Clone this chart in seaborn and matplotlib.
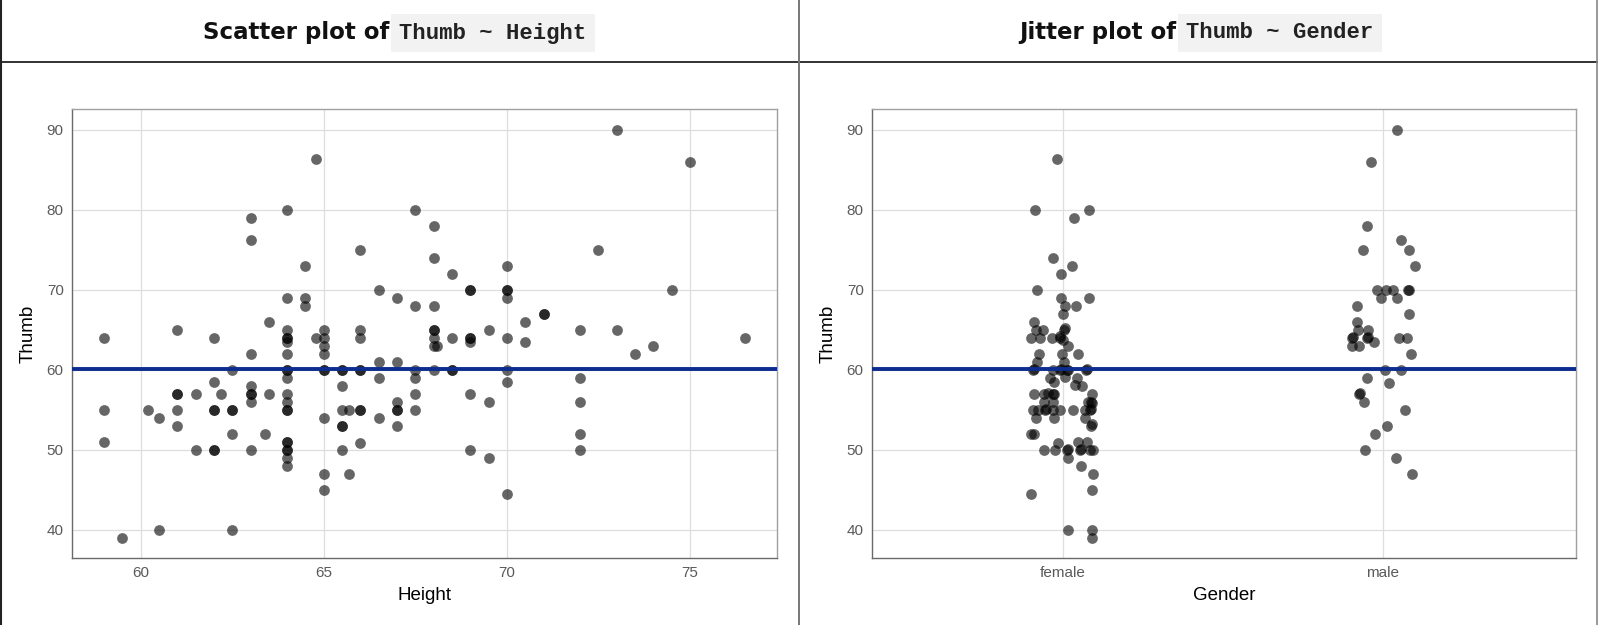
import numpy as np
import pandas as pd
import matplotlib
matplotlib.use("Agg")
import matplotlib.pyplot as plt
from matplotlib.lines import Line2D
import seaborn as sns

# -- data (Height, Thumb) --
height = [
    59, 59, 59, 59.5, 60.2, 60.5, 60.5, 61, 61, 61, 61, 61, 61.5, 61.5,
    62, 62, 62.2, 62, 62, 62, 62, 62.5, 62.5, 62.5, 62.5, 62.5,
    63, 63, 63, 63, 63, 63, 63, 63, 63.5, 63.5, 63.4,
    64, 64, 64, 64, 64, 64, 64, 64, 64, 64, 64, 64, 64, 64, 64, 64, 64, 64, 64, 64,
    64.5, 64.5, 64.5, 64.8, 64.8,
    65, 65, 65, 65, 65, 65, 65, 65, 65,
    65.5, 65.5, 65.5, 65.5, 65.7, 65.5, 65.5, 65.5, 65.7,
    66, 66, 66, 66, 66, 66, 66, 66,
    66.5, 66.5, 66.5, 66.5,
    67, 67, 67, 67, 67, 67,
    67.5, 67.5, 67.5, 67.5, 67.5, 67.5,
    68, 68, 68, 68, 68, 68, 68, 68.1, 68,
    68.5, 68.5, 68.5, 68.5,
    69, 69, 69, 69, 69, 69, 69, 69.5, 69.5, 69.5,
    70, 70, 70, 70, 70, 70, 70, 70, 70.5, 70.5, 71, 71,
    72, 72, 72, 72, 72, 72.5, 73, 73, 73.5, 74, 74.5, 75, 76.5,
]
thumb = [
    64, 55, 51, 39, 55, 54, 40, 65, 57, 57, 55, 53, 57, 50,
    64, 58.4, 57, 55, 55, 50, 50, 60, 55, 55, 52, 40,
    79, 76.2, 62, 58, 57, 57, 56, 50, 66, 57, 52,
    80, 69, 65, 64, 64, 63.4, 62, 60, 60, 59, 57, 56, 55, 55, 51, 51, 50, 50, 49, 48,
    73, 69, 68, 86.4, 64,
    65, 64, 63, 62, 60, 60, 54, 47, 45,
    60, 60, 58, 55, 55, 53, 53, 50, 47,
    75, 65, 64, 60, 60, 55, 55, 50.8,
    70, 61, 59, 54,
    69, 61, 56, 55, 55, 53,
    80, 68, 60, 59, 57, 55,
    78, 74, 68, 65, 65, 64, 63, 63, 60,
    72, 64, 60, 60,
    70, 70, 64, 64, 63.5, 57, 50, 65, 56, 49,
    73, 70, 70, 69, 64, 60, 58.4, 44.4, 66, 63.5, 67, 67,
    65, 59, 56, 52, 50, 75, 90, 65, 62, 63, 70, 86, 64,
]

# -- data (jitter offset, Thumb) --
female_jit = [
    -0.020, -0.089, 0.082, 0.035, -0.031, 0.028, -0.007, -0.082, -0.005, 0.081,
    0.006, 0.039, 0.001, -0.091, -0.084, -0.064, 0.003, 0.005, -0.099, -0.072,
    -0.034, -0.011, -0.009, 0.001, 0.017, -0.074, -0.004, 0.047, -0.080, 0.003,
    -0.094, -0.091, -0.030, -0.010, -0.007, 0.011, 0.014, 0.072, 0.075,
    -0.040, -0.027, 0.006, 0.043, 0.037, 0.058,
    -0.092, -0.058, -0.046, -0.030, -0.028, 0.090,
    -0.061, -0.030, 0.079, 0.088, 0.092,
    -0.093, -0.077, -0.057, -0.052, -0.030, -0.009, 0.032, 0.069, 0.084, 0.088,
    -0.086, -0.029, 0.069, 0.088, 0.092, -0.099, -0.090,
    -0.016, 0.048, 0.076,
    -0.059, -0.025, 0.012, 0.015, 0.053, 0.056, 0.084, 0.095,
    0.017, 0.055, 0.093, 0.090, -0.101, 0.014, 0.092, 0.092,
]
female_thumb = [
    86.4, 80, 80, 79, 74, 73, 72, 70, 69, 69,
    68, 68, 67, 66, 65, 65, 65, 65.2, 64, 64,
    64, 64, 64.2, 63.7, 63, 62, 62, 62, 61, 61,
    60, 60.1, 60, 60, 60.1, 60, 59.9, 60, 60.1,
    59, 58.5, 59.1, 59, 58.1, 58,
    57, 57, 57.1, 57, 56.9, 57,
    56, 56, 56, 56, 55.8,
    55, 55, 55, 55.1, 55, 55, 55, 55, 55, 55.1,
    54, 54, 54, 53, 53.2, 52, 52,
    50.8, 50.9, 50.9,
    50, 50, 50, 50.1, 50, 50.1, 50, 50,
    49, 48, 47, 45, 44.4, 40, 40, 39,
]
male_jit = [
    0.045, -0.039, -0.051, 0.057, -0.064, 0.080, 0.100, -0.018, 0.008, 0.032,
    0.078, 0.082, -0.007, 0.043, -0.082, 0.080, -0.082, -0.079, -0.048, -0.097,
    -0.095, -0.049, -0.047, -0.028, -0.097, -0.074, 0.051, 0.074, 0.086, 0.006,
    0.056, -0.051, 0.019, -0.074, -0.072, -0.059, 0.069, 0.013, -0.026, -0.055,
    0.041, 0.089,
]
male_thumb = [
    90, 86, 78, 76.2, 75, 75, 73, 70, 70, 70,
    70, 70, 69, 69, 68, 67, 66, 65, 65, 64,
    64.1, 64, 64.1, 63.5, 63, 63, 64, 64, 62, 60,
    60, 59, 58.3, 57, 57.1, 56, 55, 53, 52, 50,
    49, 47,
]
genders = ["female", "male"]
mean_thumb = 60.1

df = pd.DataFrame({"Height": height, "Thumb": thumb})
jit = pd.DataFrame({
    "Gender": ["female"] * len(female_thumb) + ["male"] * len(male_thumb),
    "Thumb": female_thumb + male_thumb,
    "jitter": female_jit + male_jit,
})
jit["pos"] = jit["Gender"].map({g: i for i, g in enumerate(genders)}) + jit["jitter"]

sns.set_theme(style="white")
plt.rcParams["font.family"] = ["Liberation Sans", "DejaVu Sans"]

W, H = 1598, 625
fig = plt.figure(figsize=(W / 100, H / 100), dpi=100)


def box(x0, x1):
    return [x0 / W, 1 - 558 / H, (x1 - x0) / W, (558 - 109) / H]


ax1 = fig.add_axes(box(72, 777))
ax2 = fig.add_axes(box(872, 1576))

pt = dict(color="black", alpha=0.6, s=60, linewidth=0, legend=False)
sns.scatterplot(data=df, x="Height", y="Thumb", ax=ax1, **pt)
sns.scatterplot(data=jit, x="pos", y="Thumb", ax=ax2, **pt)

for ax in (ax1, ax2):
    ax.axhline(mean_thumb, color="#0d2c8f", lw=2.8, zorder=3)
    ax.set_ylim(36.45, 92.6)
    ax.set_yticks([40, 50, 60, 70, 80, 90])
    ax.grid(True, color="#dedede", lw=0.9)
    ax.set_axisbelow(True)
    for side in ("top", "right"):
        ax.spines[side].set_color("#a0a0a0")
    for side in ("left", "bottom"):
        ax.spines[side].set_color("#6a6a6a")
    for s in ax.spines.values():
        s.set_linewidth(1.0)
    ax.tick_params(axis="both", length=3, width=0.8, color="#9a9a9a",
                   labelsize=11, labelcolor="#5a5a5a", pad=3)
    ax.set_ylabel("Thumb", fontsize=13.5, color="black", labelpad=7)

ax1.set_xlim(58.125, 77.375)
ax1.set_xticks([60, 65, 70, 75])
ax1.set_xlabel("Height", fontsize=13.5, color="black", labelpad=5)

ax2.set_xlim(-0.597, 1.603)
ax2.set_xticks([0, 1])
ax2.set_xticklabels(genders)
ax2.set_xlabel("Gender", fontsize=13.5, color="black", labelpad=5)

# -- header row --
ty = 1 - 33 / H
head = dict(fontsize=16.5, fontweight="bold", family="DejaVu Sans", va="center", color="#111111")
code = dict(fontsize=16, fontweight="bold", family="Liberation Mono", va="center", color="#222222",
            bbox=dict(boxstyle="square,pad=0.38", fc="#f2f2f2", ec="none"))
fig.text(389 / W, ty, "Scatter plot of", ha="right", **head)
fig.text(399 / W, ty, "Thumb ~ Height", ha="left", **code)
fig.text(1176 / W, ty, "Jitter plot of", ha="right", **head)
fig.text(1186 / W, ty, "Thumb ~ Gender", ha="left", **code)

fig.add_artist(Line2D([0, 1], [1 - 62 / H] * 2, color="#222222", lw=1.3))
fig.add_artist(Line2D([799 / W] * 2, [0, 1], color="#777777", lw=1.4))
fig.add_artist(Line2D([1 / W] * 2, [0, 1], color="#222222", lw=1.5))
fig.add_artist(Line2D([1597 / W] * 2, [0, 1], color="#888888", lw=1.2))

fig.savefig("out.png", dpi=100, facecolor="white")
